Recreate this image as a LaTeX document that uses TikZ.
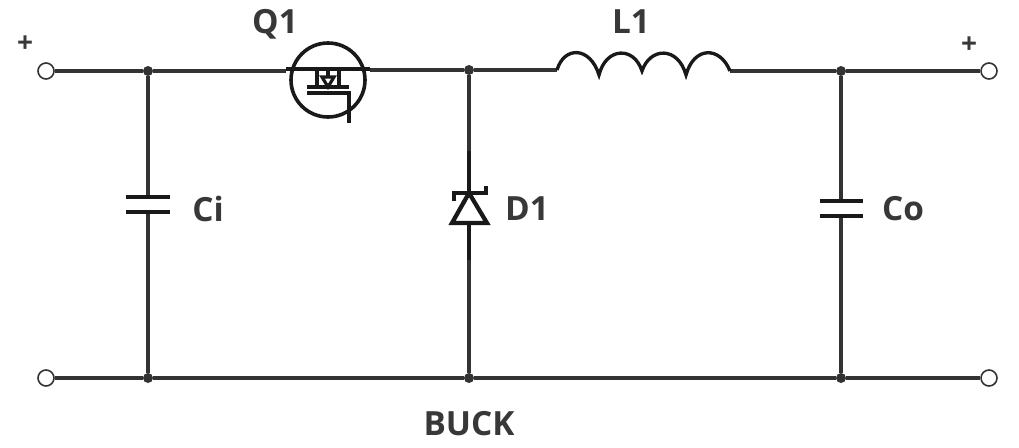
\documentclass[tikz,border=0pt]{standalone}
\usepackage{fontspec}
\setmainfont{Open Sans}
\begin{document}
\begin{tikzpicture}[x=0.75pt,y=-0.75pt,
  wire/.style={draw=black!80,line width=2.3pt},
  sym/.style={draw=black!90,line width=2.5pt},
  term/.style={circle,draw=black!80,fill=white,line width=1.2pt,minimum size=12pt,inner sep=0pt},
  junc/.style={circle,fill=black!80,minimum size=7.5pt,inner sep=0pt},
  lab/.style={font=\bfseries\fontsize{25pt}{28pt}\selectfont,text=black!78,inner sep=0pt},
  plus/.style={font=\bfseries\fontsize{21pt}{24pt}\selectfont,text=black!78,inner sep=0pt}]
\useasboundingbox (0,0) rectangle (1019,447);
\fill[white] (0,0) rectangle (1019,447);
% junctions
\node[junc] (j1) at (148,71) {};
\node[junc] (j2) at (469,70) {};
\node[junc] (j3) at (841,71) {};
\node[junc] (j4) at (148,378) {};
\node[junc] (j5) at (469,378) {};
\node[junc] (j6) at (841,378) {};
% anchors on the symbols
\coordinate (qL) at (286,71);
\coordinate (qR) at (370,70);
\coordinate (lL) at (557,70);
\coordinate (lR) at (730,71);
\coordinate (ciT) at (148,197);
\coordinate (ciB) at (148,212);
\coordinate (coT) at (841,201);
\coordinate (coB) at (841,216);
\coordinate (dT) at (469,193);
\coordinate (dB) at (469,223);
% terminals
\node[term] (t1) at (46,71) {};
\node[term] (t2) at (46,378) {};
\node[term] (t3) at (989,71) {};
\node[term] (t4) at (989,378) {};
% wires
\draw[wire] (t1) -- (j1) -- (qL);
\draw[wire] (qR) -- (j2) -- (lL);
\draw[wire] (lR) -- (j3) -- (t3);
\draw[wire] (t2) -- (j4) -- (j5) -- (j6) -- (t4);
\draw[wire] (j1) -- (ciT);
\draw[wire] (ciB) -- (j4);
\draw[wire] (j3) -- (coT);
\draw[wire] (coB) -- (j6);
\draw[wire] (j2) -- (dT);
\draw[wire] (dB) -- (j5);
% capacitors
\draw[sym,line width=2.8pt] (126,197) -- (170,197) (126,212) -- (170,212);
\draw[sym,line width=2.8pt] (820,201) -- (863,201) (820,216) -- (863,216);
% diode
\draw[sym,line width=3.2pt] (469,151) -- (dT) (dB) -- (469,260);
\draw[sym,line width=3.2pt,line join=miter] (dT) -- (487,223) -- (452,223) -- cycle;
\draw[sym,line width=3.2pt] (454,201) -- (454,193) -- (486,193) -- (486,186);
% inductor
\draw[sym] (lL)
  .. controls (564,46) and (590,46) .. (599,75)
  .. controls (606,47) and (634,46) .. (642,71)
  .. controls (650,47) and (678,46) .. (686,75)
  .. controls (694,46) and (720,46) .. (lR);
% MOSFET
\node[circle,draw=black!90,line width=2.7pt,minimum size=55.5pt,inner sep=0pt] (q) at (328,80) {};
\draw[sym] (286,69) -- (370,69);
\draw[sym] (317,69) -- (317,87) (339,69) -- (339,87);
\draw[sym] (307,87) -- (349,87);
\draw[sym] (307,93) -- (349,93) -- (349,123);
\draw[sym,line width=2.4pt,line join=miter,fill=white] (322,77) -- (334,77) -- (328,87) -- cycle;
\draw[sym,line width=2.4pt] (328,69) -- (328,77);
% labels
\node[lab] (lbQ) at (275,24) {Q1};
\node[lab] (lbL) at (631,22) {L1};
\node[lab] (lbCi) at (208,209) {Ci};
\node[lab] (lbD) at (527,209) {D1};
\node[lab] (lbCo) at (903,209) {Co};
\node[lab] (lbB) at (469,424) {BUCK};
\node[plus] (p1) at (25,44) {+};
\node[plus] (p2) at (969,45) {+};
\end{tikzpicture}
\end{document}
